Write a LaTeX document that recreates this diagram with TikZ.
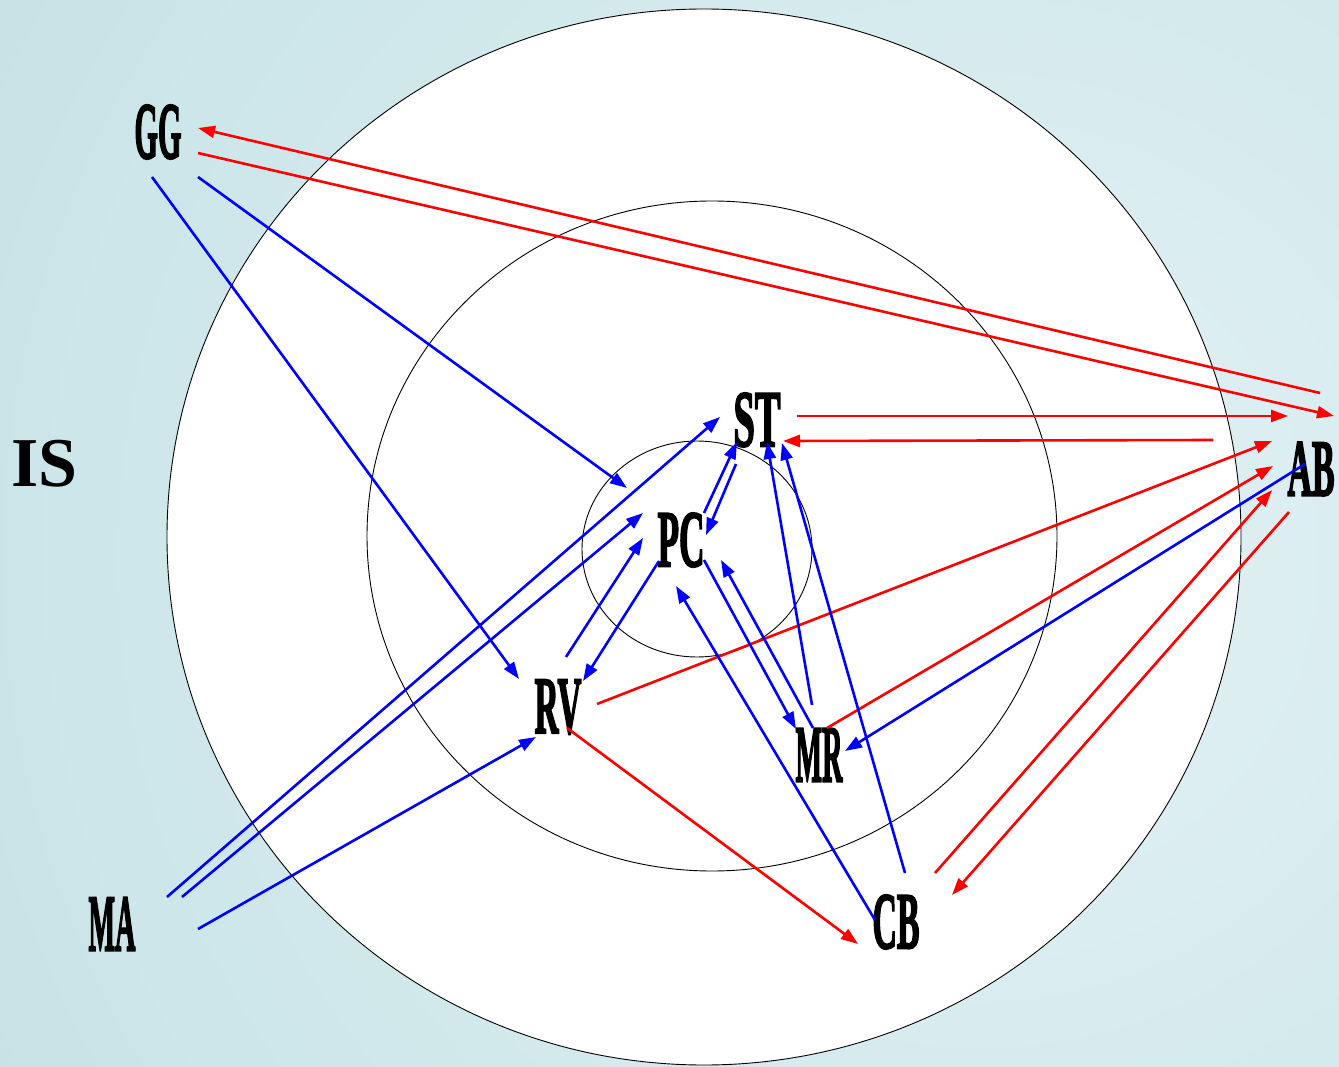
\documentclass[tikz,border=0pt]{standalone}
\usepackage{fontspec}
\setmainfont{Liberation Serif}
\newfontfamily\tagfont[BoldFeatures={FakeBold=3}]{Liberation Serif}
\usetikzlibrary{arrows.meta,calc}

% condensed heavy tag used for the actor labels
\newcommand\tagbox[1]{\resizebox{47pt}{53pt}{\tagfont\bfseries #1}}

\definecolor{bgouter}{HTML}{B9DCDF}
\definecolor{bginner}{HTML}{E4F2F5}

\tikzset{
  actor/.style={inner sep=0pt, outer sep=0pt},
  ring/.style={draw=black, line width=0.9pt, fill=white},
  link/.style={line width=2.6pt, -{Triangle[length=17pt,width=12pt]}},
  redlink/.style={link, draw=red, fill=red},
  bluelink/.style={link, draw=blue, fill=blue},
}

\begin{document}
\begin{tikzpicture}[x=1pt, y=-1pt]
  \useasboundingbox (0,0) rectangle (1339,1067);

  % background
  \begin{scope}
    \clip (0,0) rectangle (1339,1067);
    \shade[inner color=bginner, outer color=bgouter] (980,560) circle (1650);
  \end{scope}

  % concentric rings
  \draw[ring] (704,537) ellipse [x radius=537, y radius=528];
  \draw[ring] (712,536) ellipse [x radius=345, y radius=335];
  \draw[ring] (697,549) ellipse [x radius=115, y radius=108];

  % actors
  \node[actor] (GG) at (158,132) {\tagbox{GG}};
  \node[actor] (ST) at (757,420) {\tagbox{ST}};
  \node[actor] (PC) at (681,540) {\tagbox{PC}};
  \node[actor] (RV) at (558,707) {\tagbox{RV}};
  \node[actor] (MR) at (819,755) {\tagbox{MR}};
  \node[actor] (AB) at (1311,469) {\tagbox{AB}};
  \node[actor] (CB) at (896,922) {\tagbox{CB}};
  \node[actor] (MA) at (112,924) {\tagbox{MA}};
  \node[actor] (IS) at (44.5,464) {\fontsize{70}{70}\selectfont\bfseries IS};

  % red links
  \draw[redlink] ($(AB)+(9,-76)$)   -- ($(GG)+(40,-4)$);
  \draw[redlink] ($(GG)+(40,21)$)   -- ($(AB)+(23,-53)$);
  \draw[redlink] ($(ST)+(40,-4)$)   -- ($(AB)+(-23,-53)$);
  \draw[redlink] ($(AB)+(-98,-29)$) -- ($(ST)+(26,21)$);
  \draw[redlink] ($(RV)+(39,-3)$)   -- ($(AB)+(-39,-28)$);
  \draw[redlink] ($(MR)+(8,-27)$)   -- ($(AB)+(-38,-3)$);
  \draw[redlink] ($(CB)+(39,-49)$)  -- ($(AB)+(-39,21)$);
  \draw[redlink] ($(AB)+(-22,43)$)  -- ($(CB)+(56,-27)$);
  \draw[redlink] ($(RV)+(9,21)$)    -- ($(CB)+(-38,22)$);

  % blue links
  \draw[bluelink] ($(GG)+(-6,45)$)  -- ($(RV)+(-39,-28)$);
  \draw[bluelink] ($(GG)+(40,45)$)  -- ($(PC)+(-54,-52)$);
  \draw[bluelink] ($(MA)+(55,-27)$) -- ($(ST)+(-37,-3)$);
  \draw[bluelink] ($(MA)+(70,-27)$) -- ($(PC)+(-38,-27)$);
  \draw[bluelink] ($(MA)+(86,5)$)   -- ($(RV)+(-22,30)$);
  \draw[bluelink] ($(RV)+(8,-50)$)  -- ($(PC)+(-38,-2)$);
  \draw[bluelink] ($(PC)+(-22,21)$) -- ($(RV)+(25,-26)$);
  \draw[bluelink] ($(PC)+(23,-27)$) -- ($(ST)+(-20,22)$);
  \draw[bluelink] ($(ST)+(-21,44)$) -- ($(PC)+(25,-5)$);
  \draw[bluelink] ($(PC)+(23,20)$)  -- ($(MR)+(-23,-26)$);
  \draw[bluelink] ($(MR)+(-6,-27)$) -- ($(PC)+(40,20)$);
  \draw[bluelink] ($(MR)+(-7,-50)$) -- ($(ST)+(10,22)$);
  \draw[bluelink] ($(CB)+(9,-49)$)  -- ($(ST)+(25,23)$);
  \draw[bluelink] ($(CB)+(-21,-2)$) -- ($(PC)+(-5,46)$);
  \draw[bluelink] ($(AB)+(-6,-5)$)  -- ($(MR)+(26,-4)$);
\end{tikzpicture}
\end{document}
